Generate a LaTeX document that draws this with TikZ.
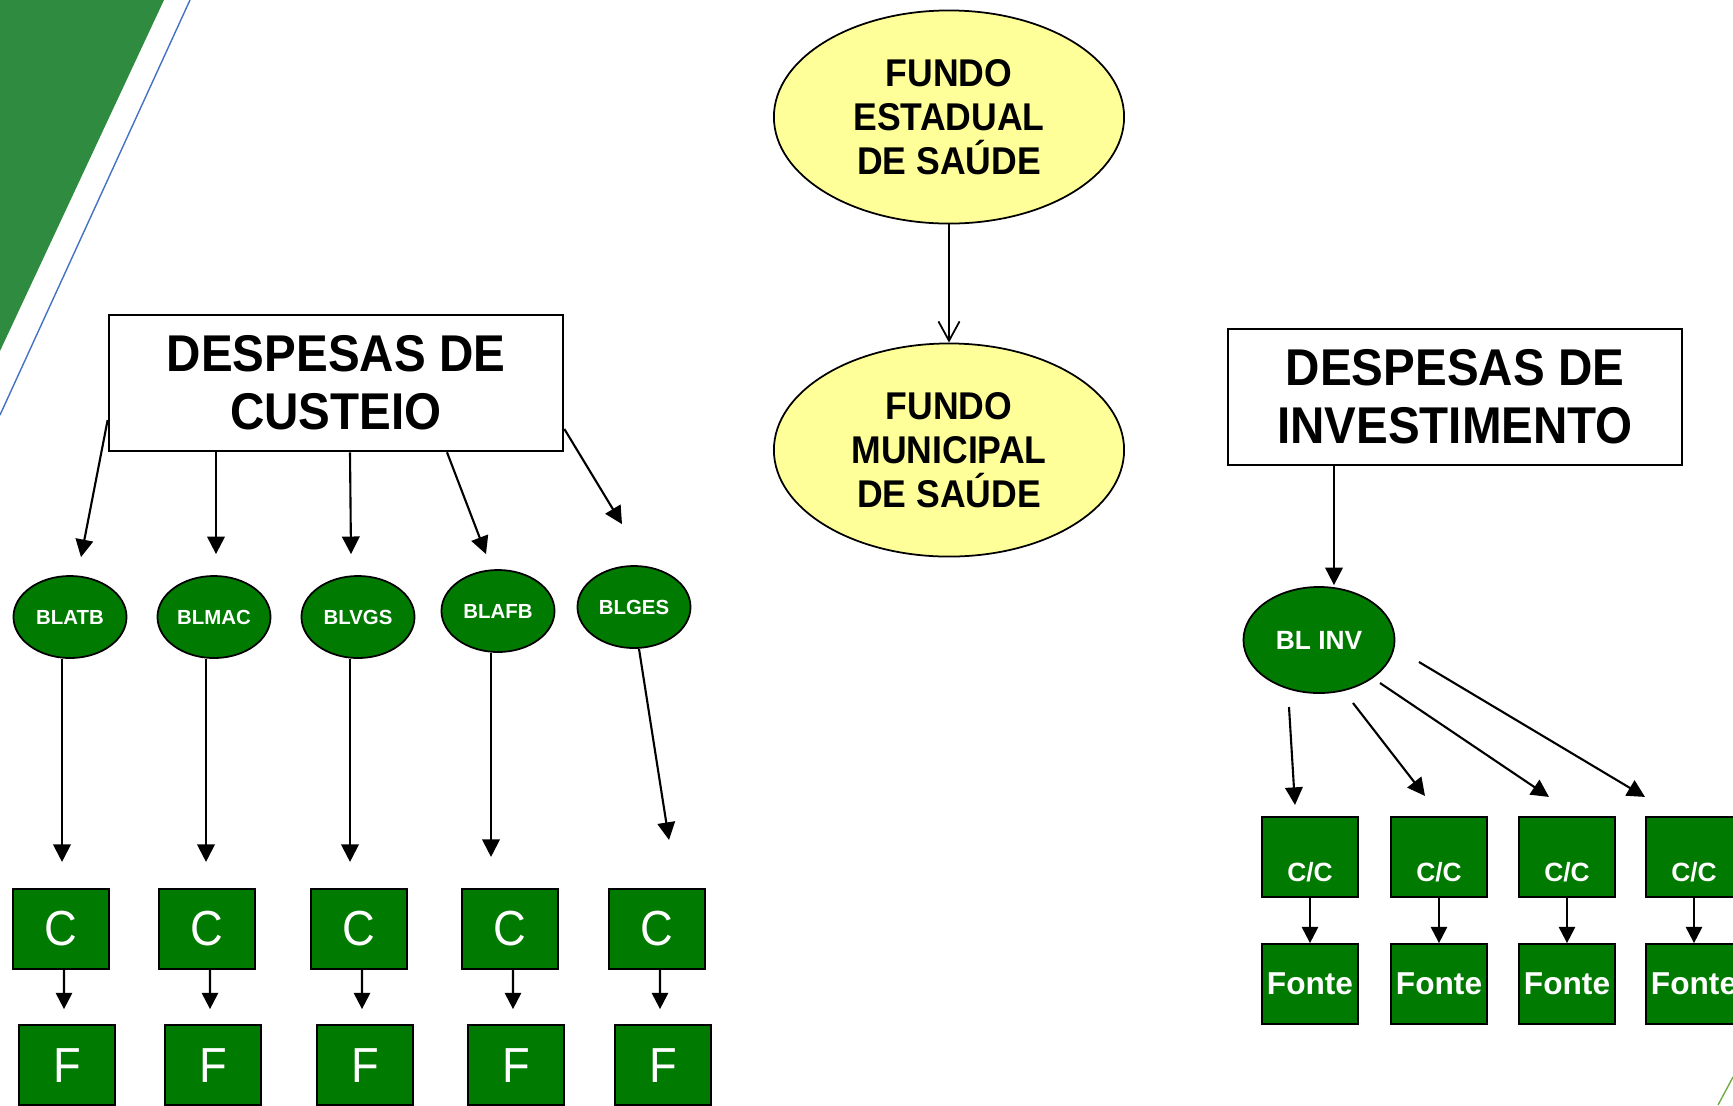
\documentclass[tikz,border=0pt]{standalone}
\usepackage{fontspec}
\setmainfont{Liberation Sans}
\newfontfamily\condensed{Liberation Sans}[FakeStretch=0.92]
\usetikzlibrary{arrows.meta, positioning, shapes.geometric, calc}

\definecolor{boxgreen}{RGB}{0,122,0}
\definecolor{slidegreen}{RGB}{46,139,64}
\definecolor{fundoyellow}{RGB}{255,255,153}
\definecolor{slideblue}{RGB}{68,114,196}
\definecolor{cornergreen}{RGB}{112,173,71}

\newcommand\headtext{\condensed\bfseries\fontsize{14.7}{16.5}\selectfont}
\newcommand\fundotext{\condensed\bfseries\fontsize{11}{12.5}\selectfont}
\newcommand\lettertext{\condensed\fontsize{14}{16}\selectfont}

\begin{document}
\begin{tikzpicture}[
    x=0.01cm, y=-0.01cm,
    headbox/.style={draw=black, line width=0.7pt, fill=white, minimum width=4.54cm, minimum height=1.36cm, align=center, font=\headtext},
    fundo/.style={ellipse, draw=black, line width=0.5pt, fill=fundoyellow, minimum width=3.5cm, minimum height=2.13cm, inner sep=0pt, align=center, font=\fundotext},
    bloco/.style={ellipse, draw=black, line width=0.5pt, fill=boxgreen, minimum width=1.13cm, minimum height=0.82cm, inner sep=0pt, text=white, font=\bfseries\fontsize{5.8}{7}\selectfont},
    conta/.style={draw=black, line width=0.6pt, fill=boxgreen, minimum width=0.96cm, minimum height=0.8cm, inner sep=0pt, text=white},
    arrow/.style={-{Triangle[length=5pt, width=5pt]}, line width=0.6pt},
    small arrow/.style={-{Triangle[length=4.6pt, width=4.6pt]}, line width=0.6pt}
  ]

  \useasboundingbox (0,0) rectangle (1733,1105);
  \clip (0,0) rectangle (1733,1105);

  % slide decoration
  \fill[slidegreen] (0,0) -- (164,0) -- (0,351) -- cycle;
  \draw[slideblue, line width=0.4pt] (190,0) -- (0,415);
  \draw[cornergreen, line width=0.4pt] (1733,1077) -- (1718,1105);

  % the two funds in the middle
  \node[fundo] (estadual) at (949,117) {FUNDO\\ESTADUAL\\DE SAÚDE};
  \node[fundo] (municipal) at (949,450) {FUNDO\\MUNICIPAL\\DE SAÚDE};
  \draw[-{Straight Barb[length=5.5pt, width=6pt]}, line width=0.5pt] (estadual) -- (municipal);

  % costing expenses, five blocks
  \node[headbox] (custeio) at (336,383) {DESPESAS DE\\CUSTEIO};

  \foreach \nome/\bx/\by/\cx/\sx/\tx/\ty [count=\i] in {
      BLATB/70/617/61/-8/1/-26,
      BLMAC/214/617/207/-8/-1/-26,
      BLVGS/358/617/359/-8/-9/-26,
      BLAFB/498/611/510/-7/-19/-31,
      BLGES/634/607/657/5/12/-48} {
    \node[bloco] (bl\i) at (\bx,\by) {\nome};
    \node[conta, font=\lettertext] (c\i) at (\cx,929) {C};
    \node[conta, font=\lettertext, below=0.54cm of c\i, xshift=0.06cm] (f\i) {F};
    \draw[arrow] ($(bl\i.south)+(\sx,0)$) -- ($(c\i.north)+(\tx,\ty)$);
    \draw[small arrow] ($(c\i.south)+(3,0)$) -- ($(f\i.north)+(-3,-15)$);
  }

  % arrows from the costing box to the blocks
  \draw[arrow] ($(custeio.west)+(0,37)$) -- ($(bl1.north)+(11,-18)$);
  \foreach \i/\sx/\tx/\ty in {2/-120/2/-21, 3/14/-7/-21, 4/111/-12/-15}
    \draw[arrow] ($(custeio.south)+(\sx,0)$) -- ($(bl\i.north)+(\tx,\ty)$);
  \draw[arrow] ($(custeio.east)+(0,46)$) -- ($(bl5.north)+(-12,-41)$);

  % investment expenses
  \node[headbox] (invest) at (1455,397) {DESPESAS DE\\INVESTIMENTO};
  \node[bloco, minimum width=1.51cm, minimum height=1.06cm, font=\bfseries\fontsize{7.5}{9}\selectfont] (blinv) at (1319,640) {BL INV};
  \draw[arrow] ($(invest.south)+(-121,0)$) -- ($(blinv.north)+(15,-1)$);

  \foreach \x [count=\i] in {1310,1439,1567,1694} {
    \node[conta, font=\bfseries\fontsize{7.5}{9}\selectfont, text height=0.48cm, text depth=0pt] (cc\i) at (\x,857) {C/C};
    \node[conta, font=\bfseries\fontsize{9}{11}\selectfont, below=0.45cm of cc\i] (fonte\i) {Fonte};
    \draw[small arrow] (cc\i) -- (fonte\i);
  }

  \foreach \i/\sx/\sy/\tx/\ty in {1/-30/67/-15/-11, 2/34/63/-14/-20, 3/61/43/-18/-19, 4/100/22/-49/-19}
    \draw[arrow] ($(blinv.center)+(\sx,\sy)$) -- ($(cc\i.north)+(\tx,\ty)$);

\end{tikzpicture}
\end{document}
